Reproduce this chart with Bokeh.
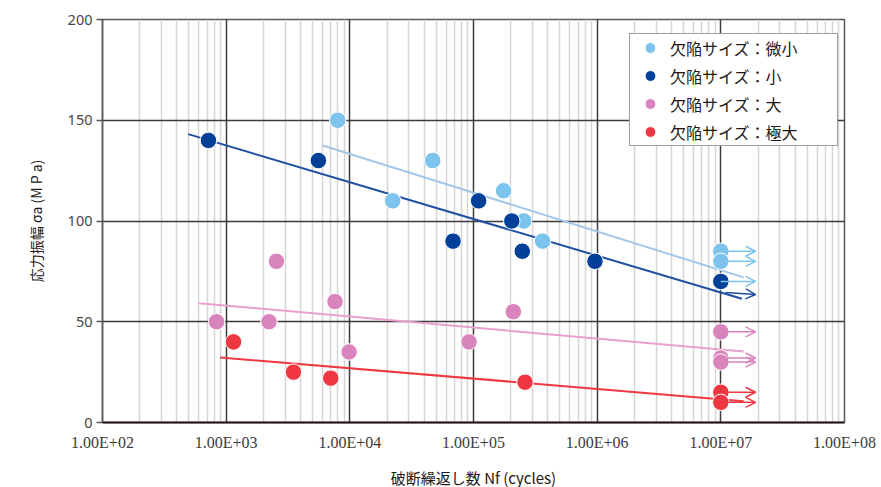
from bokeh.plotting import figure
from bokeh.models import (Range1d, FixedTicker, Arrow, OpenHead, ColumnDataSource,
                          Legend, LegendItem, Title)
from bokeh.embed import file_html
from bokeh.resources import INLINE

# ---------------- data ----------------
series_labels = ["欠陥サイズ：微小", "欠陥サイズ：小", "欠陥サイズ：大", "欠陥サイズ：極大"]

x_micro = [7980, 46800, 22200, 175000, 255000, 362000, 1e7, 1e7]
y_micro = [150, 130, 110, 115, 100, 90, 85, 80]

x_small = [719, 5570, 110000, 68300, 204000, 248000, 960000, 1e7]
y_small = [140, 130, 110, 90, 100, 85, 80, 70]

x_large = [836, 2220, 2550, 7590, 9860, 92000, 210000, 1e7, 1e7, 1e7]
y_large = [50, 50, 80, 60, 35, 40, 55, 45, 32, 30]

x_xlarge = [1146, 3500, 7010, 261000, 1e7, 1e7]
y_xlarge = [40, 25, 22, 20, 15, 10]

# trend lines (start, end)
trend_micro_x = [6040, 1.53e7]
trend_micro_y = [137.5, 72]
trend_small_x = [493, 1.48e7]
trend_small_y = [143.1, 61.4]
trend_large_x = [600, 1.53e7]
trend_large_y = [59.2, 35.2]
trend_xlarge_x = [893, 1.53e7]
trend_xlarge_y = [32.3, 10.6]

# run-out arrows (x start / x end)
arrow_x0 = 1e7
arrow_x1 = 1.91e7
arrow_micro_y = [85, 80, 70]
arrow_small_y0 = [64.5]
arrow_small_y1 = [63.5]
arrow_small_x0 = [1.09e7]
arrow_large_y = [45, 32, 30]
arrow_xlarge_y = [15, 10]

x_ticks = [100, 1000, 10000, 100000, 1000000, 10000000, 100000000]
x_tick_labels = ["1.00E+02", "1.00E+03", "1.00E+04", "1.00E+05", "1.00E+06", "1.00E+07", "1.00E+08"]
y_ticks = [0, 50, 100, 150, 200]

x_label = "破断繰返し数 Nf (cycles)"
y_label = "応力振幅 σa (M P a)"

# ---------------- style ----------------
C_MICRO = "#7cc3ee"
C_SMALL = "#004098"
C_LARGE = "#d984bd"
C_XLARGE = "#ee3740"
L_MICRO = "#a4c6e8"
L_SMALL = "#1e50a2"
L_LARGE = "#e9a0cd"
L_XLARGE = "#ee3740"
DARK = "#3e3a39"
TXT = "#231815"

p = figure(width=881, height=487, x_axis_type="log",
           x_range=Range1d(1e2, 1e8), y_range=Range1d(0, 200),
           output_backend="svg", toolbar_location=None,
           min_border_left=102, min_border_right=37, min_border_top=19,
           min_border_bottom=65)

p.background_fill_color = "white"
p.border_fill_color = "white"
p.outline_line_color = "#595757"
p.outline_line_width = 1.5

minor = [k * 10 ** d for d in range(2, 8) for k in range(2, 10)]
p.xaxis.ticker = FixedTicker(ticks=x_ticks, minor_ticks=minor)
p.yaxis.ticker = FixedTicker(ticks=y_ticks)
p.xaxis.major_label_overrides = {t: l for t, l in zip(x_ticks, x_tick_labels)}

p.xgrid.grid_line_color = DARK
p.xgrid.grid_line_width = 1.5
p.xgrid.minor_grid_line_color = "#d5d5d5"
p.xgrid.minor_grid_line_width = 1.5
p.ygrid.grid_line_color = DARK
p.ygrid.grid_line_width = 1.5

p.xaxis.axis_line_color = TXT
p.xaxis.axis_line_width = 2
p.xaxis.major_tick_out = 0
p.xaxis.major_tick_in = 0
p.xaxis.minor_tick_out = 0
p.xaxis.minor_tick_in = 0
p.xaxis.major_label_standoff = 11
p.xaxis.major_label_text_font = "Liberation Sans Narrow"
p.xaxis.major_label_text_font_size = "16px"
p.xaxis.major_label_text_color = "#3e3a39"

p.yaxis.axis_line_color = "#595757"
p.yaxis.axis_line_width = 1.5
p.yaxis.major_tick_line_color = "#595757"
p.yaxis.major_tick_line_width = 1.5
p.yaxis.major_tick_out = 6
p.yaxis.major_tick_in = 0
p.yaxis.minor_tick_out = 0
p.yaxis.major_label_standoff = 4
p.yaxis.major_label_text_font = "Noto Sans"
p.yaxis.major_label_text_font_size = "14.5px"
p.yaxis.major_label_text_color = "#4a4545"
p.yaxis.axis_label = y_label
p.yaxis.axis_label_text_font = "Noto Sans CJK JP"
p.yaxis.axis_label_text_font_size = "14px"
p.yaxis.axis_label_text_font_style = "normal"
p.yaxis.axis_label_text_color = TXT
p.yaxis.axis_label_standoff = 19

# x axis title, placed below the tick labels (leading empty line pushes it down)
p.add_layout(Title(text="\n" + x_label, align="center", vertical_align="bottom",
                   text_font="Noto Sans CJK JP",
                   text_font_size="15px", text_font_style="normal",
                   text_color=TXT, text_line_height=0.5, standoff=0), "below")

# trend lines
p.line(trend_micro_x, trend_micro_y, line_color=L_MICRO, line_width=2)
p.line(trend_small_x, trend_small_y, line_color=L_SMALL, line_width=2)
p.line(trend_large_x, trend_large_y, line_color=L_LARGE, line_width=2)
p.line(trend_xlarge_x, trend_xlarge_y, line_color=L_XLARGE, line_width=2)

# points
r_micro = p.scatter(x_micro, y_micro, size=16.5, fill_color=C_MICRO, line_color="white", line_width=1)
r_small = p.scatter(x_small, y_small, size=16.5, fill_color=C_SMALL, line_color="white", line_width=1)
r_large = p.scatter(x_large, y_large, size=16.5, fill_color=C_LARGE, line_color="white", line_width=1)
r_xlarge = p.scatter(x_xlarge, y_xlarge, size=16.5, fill_color=C_XLARGE, line_color="white", line_width=1)


def add_arrows(ys0, ys1, xs0, color):
    src = ColumnDataSource(dict(x0=xs0, y0=ys0, x1=[arrow_x1] * len(ys0), y1=ys1))
    p.add_layout(Arrow(x_start="x0", y_start="y0", x_end="x1", y_end="y1", source=src,
                       line_color=color, line_width=1.5,
                       end=OpenHead(size=10, line_color=color, line_width=1.5)))


add_arrows(arrow_micro_y, arrow_micro_y, [arrow_x0] * len(arrow_micro_y), C_MICRO)
add_arrows(arrow_small_y0, arrow_small_y1, arrow_small_x0, L_SMALL)
add_arrows(arrow_large_y, arrow_large_y, [arrow_x0] * len(arrow_large_y), C_LARGE)
add_arrows(arrow_xlarge_y, arrow_xlarge_y, [arrow_x0] * len(arrow_xlarge_y), C_XLARGE)

legend = Legend(items=[LegendItem(label=series_labels[0], renderers=[r_micro]),
                       LegendItem(label=series_labels[1], renderers=[r_small]),
                       LegendItem(label=series_labels[2], renderers=[r_large]),
                       LegendItem(label=series_labels[3], renderers=[r_xlarge])],
                location=(527, 276))
legend.padding = 0
legend.spacing = 1
legend.margin = 0
legend.glyph_width = 40
legend.glyph_height = 27
legend.label_height = 27
legend.label_standoff = 0
legend.label_width = 167
legend.label_text_font = "Noto Sans CJK JP"
legend.label_text_font_size = "16px"
legend.label_text_color = TXT
legend.label_text_baseline = "middle"
legend.border_line_color = DARK
legend.border_line_width = 1.2
legend.background_fill_color = "white"
legend.background_fill_alpha = 1
p.add_layout(legend)

open("out.html", "w").write(file_html(p, INLINE))
